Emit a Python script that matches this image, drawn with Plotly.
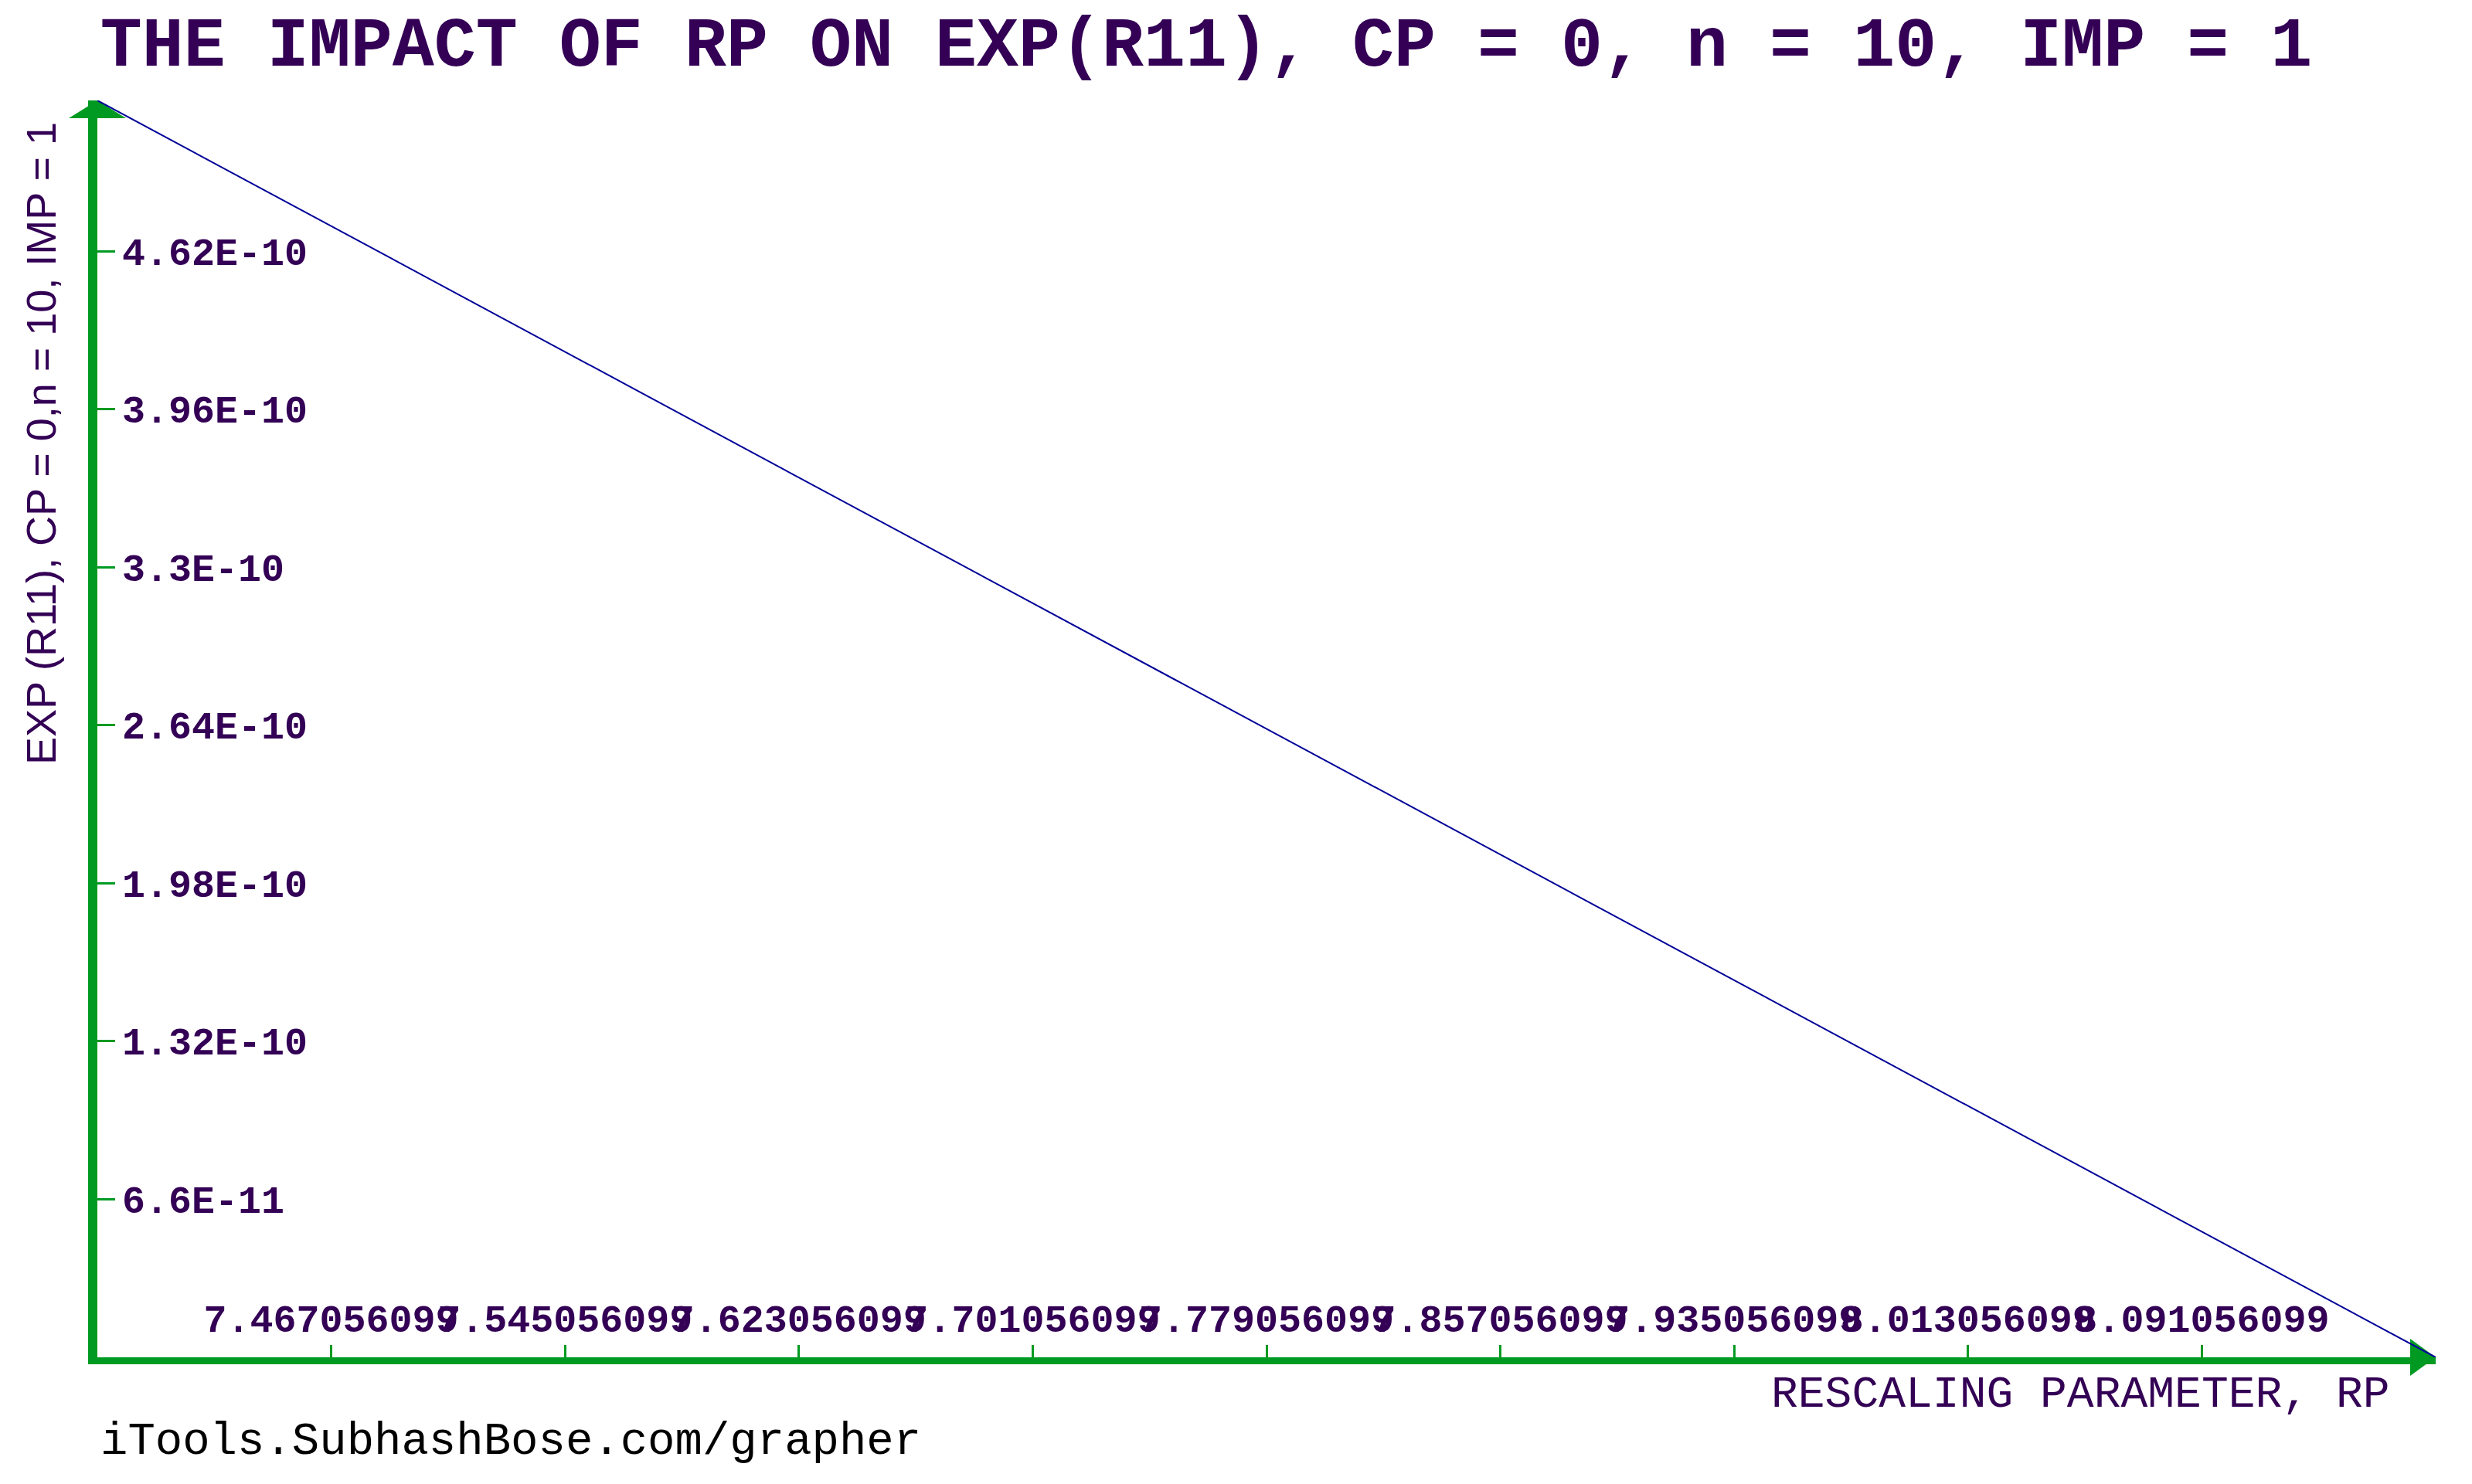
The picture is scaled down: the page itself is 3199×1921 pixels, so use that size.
import plotly.graph_objects as go

# data
rp = [7.389056099, 8.169056099]
exp_r11 = [5.25e-10, 0.0]

x_ticks = [7.467056099, 7.545056099, 7.623056099, 7.701056099, 7.779056099,
           7.857056099, 7.935056099, 8.013056099, 8.091056099]
x_labels = ["7.467056099", "7.545056099", "7.623056099", "7.701056099", "7.779056099",
            "7.857056099", "7.935056099", "8.013056099", "8.091056099"]
y_ticks = [6.6e-11, 1.32e-10, 1.98e-10, 2.64e-10, 3.3e-10, 3.96e-10, 4.62e-10]
y_labels = ["6.6E-11", "1.32E-10", "1.98E-10", "2.64E-10", "3.3E-10", "3.96E-10", "4.62E-10"]

W, H = 3199, 1921
L, R, T, B = 126, 47, 130, 164
GREEN = "#009A22"
INK = "#330055"
MONO = "Liberation Mono, DejaVu Sans Mono, monospace"


def px_x(p):
    return (p - L) / (W - L - R)


def px_y(p):
    return (H - B - p) / (H - T - B)


fig = go.Figure(go.Scatter(
    x=rp, y=exp_r11, mode="lines",
    line=dict(color="#000099", width=2),
    cliponaxis=False, showlegend=False, hoverinfo="skip"
))

fig.update_layout(
    width=W, height=H,
    margin=dict(l=L, r=R, t=T, b=B),
    paper_bgcolor="white", plot_bgcolor="white",
    font=dict(family=MONO, color=INK),
    title=dict(
        text="<b>THE IMPACT OF RP ON EXP(R11), CP = 0, n = 10, IMP = 1</b>",
        font=dict(size=90, color=INK, family=MONO),
        xref="container", yref="container",
        x=1561 / W, y=1 - 53 / H, xanchor="center", yanchor="middle"
    ),
    xaxis=dict(
        range=[rp[0], rp[1]], showgrid=False, zeroline=False,
        showline=True, linecolor=GREEN, linewidth=9, layer="below traces",
        tickmode="array", tickvals=x_ticks, ticktext=x_labels, tickangle=0,
        ticks="inside", ticklen=16, tickwidth=3, tickcolor=GREEN,
        ticklabelposition="inside", ticklabelstandoff=14,
        tickfont=dict(size=50, color=INK, family=MONO, weight="bold")
    ),
    yaxis=dict(
        range=[0, exp_r11[0]], showgrid=False, zeroline=False,
        showline=True, linecolor=GREEN, linewidth=12, layer="below traces",
        tickmode="array", tickvals=y_ticks, ticktext=y_labels,
        ticks="inside", ticklen=23, tickwidth=3, tickcolor=GREEN,
        ticklabelposition="inside", ticklabelstandoff=16,
        tickfont=dict(size=50, color=INK, family=MONO, weight="bold")
    ),
    # second pair of axes only to draw the outer half of the crossing ticks
    xaxis2=dict(
        overlaying="x", anchor="y", side="bottom", matches="x",
        showgrid=False, zeroline=False, showline=False, showticklabels=False,
        tickmode="array", tickvals=x_ticks,
        ticks="outside", ticklen=16, tickwidth=3, tickcolor=GREEN
    ),
    yaxis2=dict(
        overlaying="y", anchor="x", side="left", matches="y",
        showgrid=False, zeroline=False, showline=False, showticklabels=False,
        tickmode="array", tickvals=y_ticks,
        ticks="outside", ticklen=25, tickwidth=3, tickcolor=GREEN
    ),
)

# arrow heads at the ends of both axes
fig.add_shape(type="path", xref="paper", yref="paper",
              xsizemode="pixel", ysizemode="pixel", xanchor=1, yanchor=0,
              path="M -33,-24 L 0,0 L -33,24 Z",
              fillcolor=GREEN, line=dict(width=0), layer="below")
fig.add_shape(type="path", xref="paper", yref="paper",
              xsizemode="pixel", ysizemode="pixel", xanchor=0, yanchor=1,
              path="M -37,-23 L 0,0 L 37,-23 Z",
              fillcolor=GREEN, line=dict(width=0), layer="below")

fig.add_annotation(
    text="EXP (R11), CP = 0,n = 10, IMP = 1", textangle=-90,
    xref="paper", yref="paper", x=px_x(53), y=px_y(574),
    xanchor="center", yanchor="middle", showarrow=False,
    font=dict(size=54, color=INK, family="Liberation Sans Narrow, Liberation Sans, sans-serif")
)
fig.add_annotation(
    text="RESCALING PARAMETER, RP",
    xref="paper", yref="paper", x=px_x(3095), y=px_y(1805),
    xanchor="right", yanchor="middle", showarrow=False,
    font=dict(size=58, color=INK, family=MONO)
)
fig.add_annotation(
    text="iTools.SubhashBose.com/grapher",
    xref="paper", yref="paper", x=px_x(128), y=px_y(1866),
    xanchor="left", yanchor="middle", showarrow=False,
    font=dict(size=59, color="black", family=MONO)
)

fig.write_html("out.html", config={"displayModeBar": False},
               post_script="document.body.style.margin='0';")
